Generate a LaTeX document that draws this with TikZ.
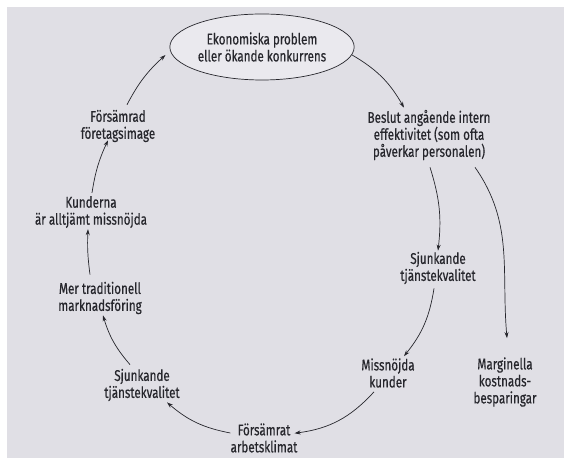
\documentclass[tikz,border=0pt]{standalone}
\usepackage{fontspec}
\setmainfont[FakeStretch=0.75, FakeBold=0.4]{Fira Sans}
\usepackage{tikz}
\usetikzlibrary{shapes.geometric, arrows.meta, calc}
\definecolor{paper}{RGB}{224,223,229}
\definecolor{bubble}{RGB}{234,233,238}
\definecolor{ink}{RGB}{38,38,44}

\begin{document}
\begin{tikzpicture}[x=1pt, y=1pt,
	txt/.style={align=center, text=ink, inner sep=1pt, font=\fontsize{15.5}{17}\selectfont},
	pil/.style={draw=ink, line width=0.7pt, -{Stealth[length=6pt, width=4pt]}}]

	\useasboundingbox (0,0) rectangle (564,460);
	\fill[white] (0,0) rectangle (564,460);
	\fill[paper] (7,2) rectangle (564,453);

	\node[txt, ellipse, draw=ink, fill=bubble, line width=0.7pt, minimum width=158pt, minimum height=66pt] (eko) at (262,413) {Ekonomiska problem\\eller ökande konkurrens};
	\node[txt] (beslut) at (429,325) {Beslut angående intern\\effektivitet (som ofta\\påverkar personalen)};
	\node[txt] (sjR) at (438,192) {Sjunkande\\tjänstekvalitet};
	\node[txt] (missn) at (388,87) {Missnöjda\\kunder};
	\node[txt] (marg) at (505,78) {Marginella\\kostnads-\\besparingar};
	\node[txt] (forsArb) at (264,22) {Försämrat\\arbetsklimat};
	\node[txt] (sjL) at (142,75) {Sjunkande\\tjänstekvalitet};
	\node[txt] (mer) at (100,162) {Mer traditionell\\marknadsföring};
	\node[txt] (kund) at (91,248) {Kunderna\\är alltjämt missnöjda};
	\node[txt] (forsImg) at (118,334) {Försämrad\\företagsimage};

	\draw[pil] (eko.-5) to[bend left=15] ($(beslut.north)+(-25,1)$);
	\draw[pil] ($(beslut.south)+(1,-6)$) to[bend left=12] (sjR.north);
	\draw[pil] ($(beslut.south)+(46,-6)$) to[out=-55, in=95] ($(marg.north)+(2,18)$);
	\draw[pil] ($(sjR.south)+(-4,-3)$) to[bend left=15] ($(missn.north)+(16,1)$);
	\draw[pil] ($(missn.south)+(-14,-3)$) to[bend left=20] ($(forsArb.north east)+(-4,-11)$);
	\draw[pil] ($(forsArb.west)+(1,5)$) to[bend left=15] ($(sjL.south)+(25,0)$);
	\draw[pil] ($(sjL.north)+(-12,3)$) to[bend left=12] ($(mer.south)+(3,0)$);
	\draw[pil] ($(mer.north)+(-10,6)$) to[bend left=5] ($(kund.south)+(-3,0)$);
	\draw[pil] ($(kund.north)+(1,2)$) to[bend left=8] ($(forsImg.south)+(-10,3)$);
	\draw[pil] ($(forsImg.north)+(9,4)$) to[bend left=10] ($(eko.west)+(-4,-8)$);

\end{tikzpicture}
\end{document}
